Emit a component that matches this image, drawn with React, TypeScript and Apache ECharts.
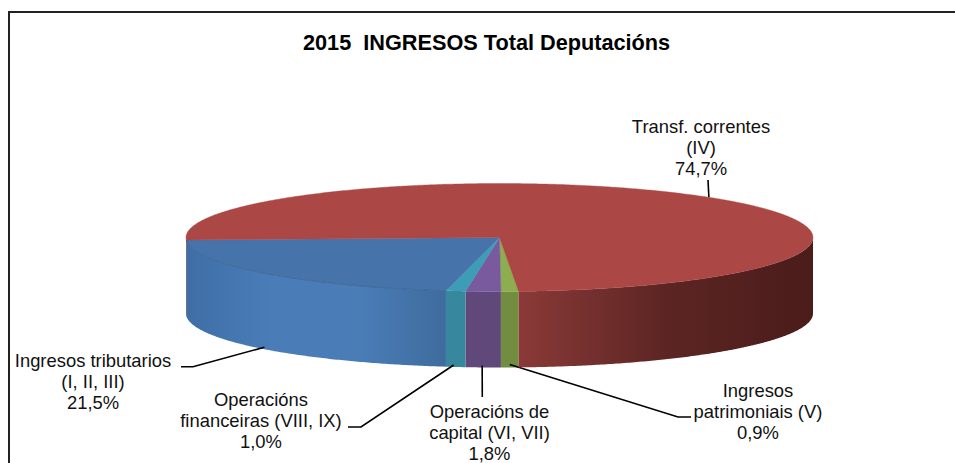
import React, { useEffect, useRef } from "react";
import * as echarts from "echarts";

const chartTitle = "2015  INGRESOS Total Deputacións";
// Clockwise order, starting at the lower front of the pie
const categories = [
  "Ingresos\npatrimoniais (V)",
  "Operacións de\ncapital (VI, VII)",
  "Operacións\nfinanceiras (VIII, IX)",
  "Ingresos tributarios\n(I, II, III)",
  "Transf. correntes\n(IV)",
];
const values = [0.9, 1.8, 1.0, 21.5, 74.7];
const valueLabels = ["0,9%", "1,8%", "1,0%", "21,5%", "74,7%"];

const topColors = ["#8cae4e", "#7a5a9e", "#3d9cb6", "#4674aa", "#ab4744"];
const wallStops: string[][] = [
  ["#728c40", "#728c40"],
  ["#60487a", "#60487a"],
  ["#37879e", "#37879e"],
  ["#3f6ea6", "#4a7db8", "#4a7cb6", "#3f6c9e"],
  ["#8a3a38", "#5c2523", "#4a1c1a"],
];

// Placement of the pie and annotation layout (pixels)
const pie = { cx: 499.5, cy: 237.5, rx: 313.5, ry: 54, depth: 76, startAngle: 176.5 };
const labelCenters = [[758, 411], [489.5, 432], [261, 420.5], [93, 381], [701, 147]];
const elbows: (number[] | null)[] = [[678, 417, 691, 417], null, [361, 427, 348, 427], [193, 366.7, 181, 366.7], null];
const anchorNudges = [[0, -3], [-1, -2], [-2, -2], [0, -2], [0, 0]];
const leaderEnds: (number[] | null)[] = [null, [482.3, 397], null, null, [708, 180]];

const total = values.reduce((a, b) => a + b, 0);
const rad = (d: number) => (d * Math.PI) / 180;
const px = (t: number) => pie.cx + pie.rx * Math.sin(rad(t));
const py = (t: number) => pie.cy - pie.ry * Math.cos(rad(t));

function arcPoints(a: number, b: number, dy = 0) {
  const n = Math.max(2, Math.ceil((b - a) / 0.5));
  const pts: number[][] = [];
  for (let i = 0; i <= n; i++) {
    const t = a + ((b - a) * i) / n;
    pts.push([px(t), py(t) + dy]);
  }
  return pts;
}

function sliceRange(i: number) {
  let a = pie.startAngle;
  for (let k = 0; k < i; k++) a += (values[k] / total) * 360;
  return [a, a + (values[i] / total) * 360];
}

function renderSlice(params: any, api: any) {
  const i = params.dataIndex;
  const share = api.value(0) / total;
  const [a] = sliceRange(i);
  const b = a + share * 360;
  const children: any[] = [];

  // front wall: only the part on the near half of the ellipse
  for (const [lo, hi] of [[90, 270], [450, 630]]) {
    const s = Math.max(a, lo);
    const e = Math.min(b, hi);
    if (e - s <= 0) continue;
    const stops = wallStops[i];
    const upper = arcPoints(s, e);
    const lower = arcPoints(s, e, pie.depth).reverse();
    children.push({
      type: "polygon",
      shape: { points: upper.concat(lower) },
      style: {
        fill: new echarts.graphic.LinearGradient(
          0, 0, 1, 0,
          stops.map((color, k) => ({ offset: k / (stops.length - 1), color }))
        ),
      },
    });
  }

  // top face
  children.push({
    type: "polygon",
    shape: { points: [[pie.cx, pie.cy], ...arcPoints(a, b)] },
    style: { fill: topColors[i], stroke: topColors[i], lineWidth: 0.4 },
  });

  // seam between the top face and the wall
  if (i === 3) {
    children.push({
      type: "polyline",
      shape: { points: arcPoints(a, b) },
      style: { fill: "none", stroke: "#3a6190", lineWidth: 0.8 },
    });
  }

  // leader line
  const mid = (a + b) / 2;
  const near = Math.cos(rad(mid)) < 0;
  const nudge = anchorNudges[i];
  const anchor = [px(mid) + nudge[0], py(mid) + (near ? pie.depth : 0) + nudge[1]];
  const pts: number[][] = [anchor];
  const el = elbows[i];
  if (el) pts.push([el[0], el[1]], [el[2], el[3]]);
  const end = leaderEnds[i];
  if (end) pts.push(end);
  children.push({
    type: "polyline",
    shape: { points: pts },
    style: { fill: "none", stroke: "#000", lineWidth: 1.6 },
  });

  // label
  const c = labelCenters[i];
  children.push({
    type: "text",
    style: {
      text: categories[i] + "\n" + valueLabels[i],
      x: c[0],
      y: c[1],
      align: "center",
      verticalAlign: "middle",
      font: '18.4px "Liberation Sans", Arial, sans-serif',
      lineHeight: 21,
      fill: "#111",
    },
  });

  return { type: "group", children };
}

export default function App() {
  const ref = useRef<HTMLDivElement>(null);
  useEffect(() => {
    const chart = echarts.init(ref.current!, null, { renderer: "svg" });
    chart.setOption({
      animation: false,
      backgroundColor: "#fff",
      title: {
        text: chartTitle,
        left: 303,
        top: 31,
        padding: 0,
        textStyle: {
          fontFamily: '"Liberation Sans", Arial, sans-serif',
          fontWeight: "bold",
          fontSize: 21.7,
          color: "#000",
        },
      },
      graphic: [
        {
          type: "polyline",
          shape: { points: [[9, 464], [9, 12], [956, 12]] },
          style: { fill: "none", stroke: "#222", lineWidth: 2 },
        },
      ],
      series: [
        {
          type: "custom",
          coordinateSystem: "none",
          silent: true,
          renderItem: renderSlice,
          clip: false,
          data: values.map((v, i) => ({ name: categories[i], value: [v] })),
        },
      ],
    });
    return () => chart.dispose();
  }, []);
  return <div ref={ref} style={{ position: "fixed", left: 0, top: 0, width: 955, height: 463 }} />;
}
